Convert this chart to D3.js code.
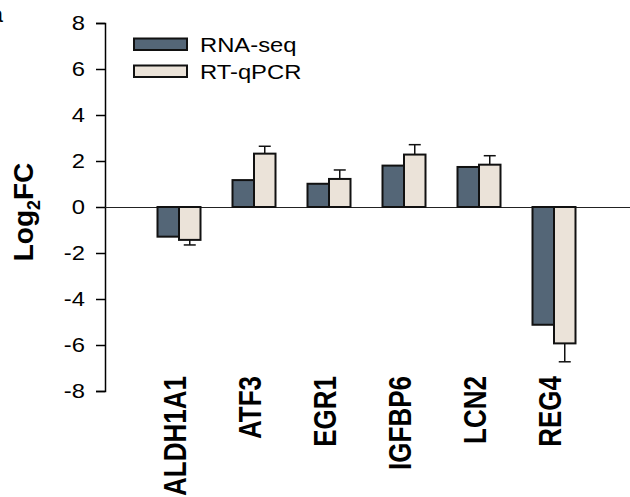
<!DOCTYPE html>
<html>
<head>
<meta charset="utf-8">
<script src="https://cdn.jsdelivr.net/npm/d3@7"></script>
<style>
  body { margin: 0; background: #fff; }
  text { font-family: "Liberation Sans", Arial, sans-serif; }
</style>
</head>
<body>
<script>
// Data
const genes = ["ALDH1A1", "ATF3", "EGR1", "IGFBP6", "LCN2", "REG4"];
const series = ["RNA-seq", "RT-qPCR"];
const rnaSeq = [-1.29, 1.17, 1.01, 1.80, 1.74, -5.12];
const rtqpcr = [-1.43, 2.32, 1.22, 2.28, 1.84, -5.93];
const rtqpcrErr = [0.22, 0.32, 0.39, 0.43, 0.39, 0.80];
const yTicks = [-8, -6, -4, -2, 0, 2, 4, 6, 8];
const colors = ["#546677", "#ebe3d9"];

const width = 630, height = 497;
// the original figure is a bit wider than tall, so horizontal text looks stretched
const stretch = 1.22;

const svg = d3.select("body").append("svg")
    .attr("width", width)
    .attr("height", height);

// Scales
const x0 = d3.scaleBand()
    .domain(genes)
    .range([104, 629])
    .paddingInner(0)
    .paddingOuter(0.5);

const x1 = d3.scaleBand()
    .domain(series)
    .range([-21.5, 21.5]);

const y = d3.scaleLinear()
    .domain([-8, 8])
    .range([391, 23]);

// Y axis (plain hyphen for negatives, like the original)
const yAxis = svg.append("g")
    .attr("transform", "translate(105,0)")
    .call(d3.axisLeft(y).tickValues(yTicks).tickSize(9).tickPadding(11).tickFormat(d => String(d)));
yAxis.select(".domain").attr("stroke", "#000").attr("stroke-width", 1.5);
yAxis.selectAll(".tick line").attr("stroke", "#000").attr("stroke-width", 1.5);
yAxis.selectAll(".tick text")
    .attr("fill", "#000")
    .attr("x", -20 / stretch)
    .attr("transform", `scale(${stretch},1)`)
    .style("font-size", "19.5px")
    .style("font-family", "'Liberation Sans', Arial, sans-serif");

// Zero line
svg.append("line")
    .attr("x1", 105).attr("x2", width)
    .attr("y1", y(0) + 0.5).attr("y2", y(0) + 0.5)
    .attr("stroke", "#222")
    .attr("stroke-width", 1);

// Y label
const ylab = svg.append("text")
    .attr("transform", `translate(33,${(y(8) + y(-8)) / 2 + 5}) rotate(-90)`)
    .attr("text-anchor", "middle")
    .style("font-size", "28px")
    .style("font-weight", "bold");
ylab.append("tspan").text("Log");
ylab.append("tspan").attr("dy", 7).style("font-size", "18px").text("2");
ylab.append("tspan").attr("dy", -7).text("FC");

// Panel letter, clipped at the edge
svg.append("text")
    .attr("x", 3).attr("y", 22)
    .attr("text-anchor", "end")
    .style("font-size", "22px")
    .text("a");

// Bars
const groups = svg.selectAll("g.gene")
    .data(genes.map((g, i) => ({ gene: g, values: [rnaSeq[i], rtqpcr[i]], err: rtqpcrErr[i] })))
    .join("g")
    .attr("class", "gene")
    .attr("transform", d => `translate(${x0(d.gene) + x0.bandwidth() / 2},0)`);

// Error bars (RT-qPCR only, one-sided)
groups.each(function(d) {
    const g = d3.select(this);
    const cx = x1("RT-qPCR") + x1.bandwidth() / 2;
    const v = d.values[1];
    const end = v >= 0 ? v + d.err : v - d.err;
    g.append("line")
        .attr("x1", cx).attr("x2", cx)
        .attr("y1", y(v)).attr("y2", y(end))
        .attr("stroke", "#111").attr("stroke-width", 1.5);
    g.append("line")
        .attr("x1", cx - 6).attr("x2", cx + 6)
        .attr("y1", y(end)).attr("y2", y(end))
        .attr("stroke", "#111").attr("stroke-width", 1.5);
});

groups.selectAll("rect")
    .data(d => d.values.map((v, j) => ({ series: series[j], value: v, idx: j })))
    .join("rect")
    .attr("x", d => x1(d.series))
    .attr("y", d => y(Math.max(0, d.value)))
    .attr("width", x1.bandwidth())
    .attr("height", d => Math.abs(y(d.value) - y(0)))
    .attr("fill", d => colors[d.idx])
    .attr("stroke", "#111")
    .attr("stroke-width", 2);

// X labels (rotated)
svg.selectAll("text.gene-label")
    .data(genes)
    .join("text")
    .attr("class", "gene-label")
    .attr("transform", d => `translate(${x0(d) + x0.bandwidth() / 2 + 7},376) rotate(-90) scale(1,${stretch})`)
    .attr("text-anchor", "end")
    .style("font-size", "26px")
    .style("font-weight", "bold")
    .text(d => d);

// Legend
const legend = svg.append("g").attr("class", "legend");
series.forEach((s, i) => {
    legend.append("rect")
        .attr("x", 134).attr("y", 38.5 + i * 27)
        .attr("width", 53).attr("height", 11.5)
        .attr("fill", colors[i])
        .attr("stroke", "#111")
        .attr("stroke-width", 2);
    legend.append("text")
        .attr("transform", `translate(200,${51.5 + i * 27}) scale(${stretch},1)`)
        .style("font-size", "19.5px")
        .text(s);
});
</script>
</body>
</html>
